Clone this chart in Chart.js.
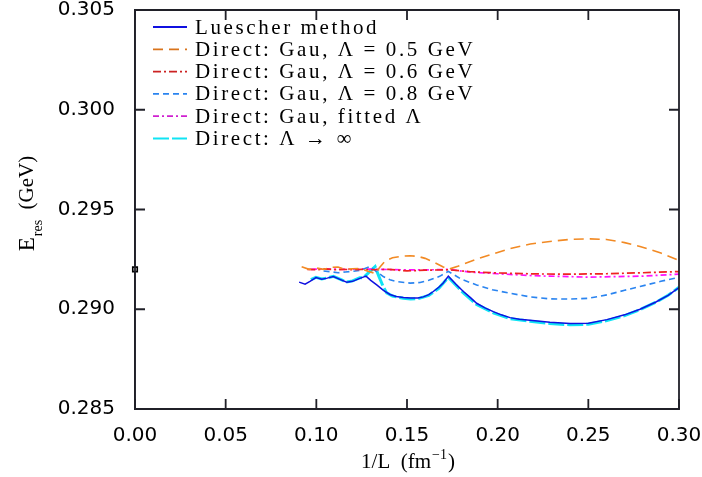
<!DOCTYPE html>
<html><head><meta charset="utf-8">
<script src="https://cdn.jsdelivr.net/npm/chart.js@4.4.1/dist/chart.umd.min.js"></script>
<style>html,body{margin:0;padding:0;background:#fff;}#wrap{width:702px;height:477px;}</style>
</head><body><div id="wrap"><canvas id="c" width="702" height="477"></canvas></div>
<script>
// ---------- data ----------
const xTicks = [0.00, 0.05, 0.10, 0.15, 0.20, 0.25, 0.30];
const yTicks = [0.285, 0.290, 0.295, 0.300, 0.305];

const seriesLabels = [
  'Luescher method',
  'Direct: Gau, \u039B = 0.5 GeV',
  'Direct: Gau, \u039B = 0.6 GeV',
  'Direct: Gau, \u039B = 0.8 GeV',
  'Direct: Gau, fitted \u039B',
  'Direct: \u039B \u2192 \u221E'
];

const luescherX = [0.0905,0.0938,0.0965,0.0998,0.1030,0.1060,0.1094,0.1130,0.1168,0.1200,0.1240,0.1274,0.1300,0.1333,0.1370,0.1406,0.1440,0.1480,0.1520,0.1560,0.1590,0.1620,0.1645,0.1675,0.1700,0.1728,0.1770,0.1811,0.1850,0.1884,0.1930,0.1976,0.2020,0.2068,0.2120,0.2178,0.2288,0.2399,0.2500,0.2602,0.2700,0.2785,0.2870,0.2940,0.3000];
const luescherY = [0.29136,0.29126,0.29140,0.29159,0.29151,0.29156,0.29164,0.29150,0.29136,0.29140,0.29155,0.29166,0.29145,0.29122,0.29095,0.29074,0.29064,0.29059,0.29057,0.29057,0.29062,0.29073,0.29089,0.29110,0.29132,0.29166,0.29125,0.29089,0.29058,0.29030,0.29007,0.28988,0.28972,0.28958,0.28950,0.28945,0.28935,0.28928,0.28930,0.28948,0.28972,0.29000,0.29035,0.29070,0.29108];

const gau05X = [0.0919,0.0960,0.1000,0.1040,0.1080,0.1120,0.1160,0.1200,0.1240,0.1280,0.1324,0.1350,0.1379,0.1420,0.1470,0.1517,0.1560,0.1600,0.1650,0.1700,0.1728,0.1780,0.1884,0.2000,0.2068,0.2180,0.2288,0.2400,0.2509,0.2600,0.2700,0.2785,0.2900,0.3000];
const gau05Y = [0.29213,0.29200,0.29207,0.29200,0.29210,0.29212,0.29200,0.29203,0.29205,0.29192,0.29180,0.29210,0.29242,0.29258,0.29266,0.29268,0.29265,0.29255,0.29235,0.29212,0.29200,0.29215,0.29251,0.29285,0.29304,0.29327,0.29340,0.29350,0.29353,0.29350,0.29334,0.29315,0.29282,0.29245];

const gau06X = [0.0950,0.1000,0.1050,0.1100,0.1150,0.1200,0.1250,0.1300,0.1400,0.1500,0.1600,0.1728,0.1850,0.2000,0.2200,0.2400,0.2600,0.2800,0.3000];
const gau06Y = [0.29200,0.29198,0.29202,0.29198,0.29200,0.29198,0.29200,0.29198,0.29200,0.29192,0.29196,0.29198,0.29188,0.29182,0.29177,0.29176,0.29178,0.29183,0.29189];

const gau08X = [0.1040,0.1080,0.1120,0.1160,0.1200,0.1240,0.1296,0.1330,0.1369,0.1406,0.1443,0.1517,0.1572,0.1620,0.1680,0.1728,0.1800,0.1884,0.1970,0.2068,0.2180,0.2288,0.2399,0.2500,0.2602,0.2700,0.2785,0.2900,0.3000];
const gau08Y = [0.29192,0.29188,0.29183,0.29187,0.29190,0.29195,0.29214,0.29190,0.29164,0.29148,0.29139,0.29131,0.29134,0.29145,0.29165,0.29190,0.29150,0.29122,0.29098,0.29080,0.29062,0.29052,0.29051,0.29055,0.29072,0.29095,0.29114,0.29140,0.29160];

const fittedX = [0.0970,0.1050,0.1150,0.1250,0.1350,0.1517,0.1650,0.1728,0.1850,0.2000,0.2200,0.2500,0.2800,0.3000];
const fittedY = [0.29200,0.29202,0.29200,0.29202,0.29200,0.29197,0.29198,0.29200,0.29186,0.29178,0.29168,0.29161,0.29166,0.29176];

const infX = [0.0970,0.0998,0.1030,0.1060,0.1094,0.1130,0.1168,0.1200,0.1240,0.1259,0.1290,0.1324,0.1345,0.1369,0.1388,0.1420,0.1480,0.1520,0.1560,0.1620,0.1675,0.1728,0.1811,0.1884,0.1976,0.2068,0.2178,0.2288,0.2399,0.2500,0.2602,0.2700,0.2785,0.2870,0.2940,0.3000];
const infY = [0.29148,0.29160,0.29152,0.29157,0.29165,0.29151,0.29137,0.29142,0.29158,0.29158,0.29185,0.29214,0.29165,0.29113,0.29082,0.29066,0.29055,0.29052,0.29053,0.29069,0.29105,0.29160,0.29082,0.29024,0.28982,0.28953,0.28940,0.28929,0.28922,0.28925,0.28943,0.28968,0.28998,0.29034,0.29070,0.29110];

const refPointX = [0.0];
const refPointY = [0.2920];

// ---------- helpers ----------
const pts = (xs, ys) => xs.map((x, i) => ({x: x, y: ys[i]}));

const datasets = [
  {label: seriesLabels[0], data: pts(luescherX, luescherY), borderColor: '#1010e0', borderWidth: 1.5, borderDash: []},
  {label: seriesLabels[1], data: pts(gau05X, gau05Y), borderColor: '#f28a24', legendColor: '#d9741c', borderWidth: 1.6, borderDash: [10, 6]},
  {label: seriesLabels[2], data: pts(gau06X, gau06Y), borderColor: '#ee2222', legendColor: '#cc2222', borderWidth: 1.7, borderDash: [8, 3, 2, 3]},
  {label: seriesLabels[3], data: pts(gau08X, gau08Y), borderColor: '#2a84f0', borderWidth: 1.6, borderDash: [6, 4]},
  {label: seriesLabels[4], data: pts(fittedX, fittedY), borderColor: '#ff10ff', legendColor: '#d020d0', borderWidth: 1.7, borderDash: [6, 3, 2, 3]},
  {label: seriesLabels[5], data: pts(infX, infY), borderColor: '#10e4f4', borderWidth: 3, borderDash: [16, 3]},
  {label: 'ref', hideLegend: true, data: pts(refPointX, refPointY), showLine: false, clip: false, pointStyle: 'rect', pointRadius: 3.2, borderColor: '#000', backgroundColor: '#fff', pointBorderWidth: 1.6}
];
datasets.forEach(d => { d.fill = false; d.tension = 0; if (d.pointRadius === undefined) d.pointRadius = 0; d.showLine = d.showLine !== false; });

const FRAME = '#202028';
const TICK_LEN = 10;

// ---------- frame with inward ticks on all four sides (filled shapes) ----------
function drawFrame(chart) {
  const ctx = chart.ctx, ca = chart.chartArea;
  const xs = chart.scales.x, ys = chart.scales.y;
  const t = 1.8, h = t / 2;
  ctx.save();
  ctx.fillStyle = FRAME;
  ctx.beginPath();
  ctx.rect(ca.left - h, ca.top - h, ca.width + t, ca.height + t);
  ctx.rect(ca.left + h, ca.top + h, ca.width - t, ca.height - t);
  ctx.fill('evenodd');
  ctx.beginPath();
  for (const v of xTicks) {
    const px = xs.getPixelForValue(v);
    ctx.rect(px - h, ca.bottom - TICK_LEN, t, TICK_LEN);
    ctx.rect(px - h, ca.top, t, TICK_LEN);
  }
  for (const v of yTicks) {
    const py = ys.getPixelForValue(v);
    ctx.rect(ca.left, py - h, TICK_LEN, t);
    ctx.rect(ca.right - TICK_LEN, py - h, TICK_LEN, t);
  }
  ctx.fill();
  ctx.restore();
}

// ---------- legend and axis titles ----------
function drawLegend(chart) {
  const ctx = chart.ctx, ca = chart.chartArea;
  const items = chart.data.datasets.filter(d => !d.hideLegend);
  ctx.save();
  ctx.font = '21px "Liberation Serif"';
  try { ctx.letterSpacing = '2.6px'; } catch (e) {}
  ctx.textBaseline = 'middle';
  items.forEach((d, i) => {
    const y = ca.top + 17 + i * 22.3;
    ctx.strokeStyle = d.legendColor || d.borderColor;
    ctx.lineWidth = 1.8;
    ctx.setLineDash(d.borderDash || []);
    ctx.beginPath(); ctx.moveTo(ca.left + 18, y); ctx.lineTo(ca.left + 52, y); ctx.stroke();
    ctx.setLineDash([]);
    ctx.fillStyle = '#000';
    ctx.fillText(d.label, ca.left + 60, y + 1);
  });
  ctx.restore();
}

function drawTitles(chart) {
  const ctx = chart.ctx, ca = chart.chartArea;
  ctx.save();
  ctx.fillStyle = '#000';
  ctx.textBaseline = 'alphabetic';
  const big = '21px "Liberation Serif"', small = '14px "Liberation Serif"';
  ctx.font = big;
  const p1 = '1/L  (fm', p3 = ')';
  const w1 = ctx.measureText(p1).width;
  ctx.font = small;
  const p2 = '\u22121';
  const w2 = ctx.measureText(p2).width;
  ctx.font = big;
  const w3 = ctx.measureText(p3).width;
  const cx = (ca.left + ca.right) / 2;
  const x0 = cx - (w1 + w2 + w3) / 2;
  const base = 468;
  ctx.font = big; ctx.fillText(p1, x0, base);
  ctx.font = small; ctx.fillText(p2, x0 + w1 + 1, base - 9);
  ctx.font = big; ctx.fillText(p3, x0 + w1 + w2 + 2, base);
  ctx.translate(0, 204);
  ctx.rotate(-Math.PI / 2);
  ctx.font = '23px "Liberation Serif"';
  const we = ctx.measureText('E').width;
  ctx.font = big;
  const g = '  (GeV)';
  const wg = ctx.measureText(g).width;
  ctx.font = small;
  const wr = ctx.measureText('res').width;
  const s = -(we + wr + wg) / 2;
  ctx.font = '23px "Liberation Serif"'; ctx.fillText('E', s, 34);
  ctx.font = small; ctx.fillText('res', s + we + 1, 42);
  ctx.font = big; ctx.fillText(g, s + we + wr + 1, 33);
  ctx.restore();
}

const overlayPlugin = {
  id: 'overlayDecor',
  afterDraw(chart) {
    drawFrame(chart);
    drawLegend(chart);
    drawTitles(chart);
  }
};

// ---------- chart ----------
new Chart(document.getElementById('c'), {
  type: 'line',
  data: {datasets: datasets},
  options: {
    responsive: false,
    animation: false,
    devicePixelRatio: 1,
    layout: {padding: {left: 0, right: 23, top: 10, bottom: 0}},
    plugins: {legend: {display: false}, tooltip: {enabled: false}},
    scales: {
      x: {
        type: 'linear', min: 0, max: 0.3,
        grid: {display: false, drawTicks: false},
        border: {display: true, color: FRAME, width: 1.6},
        afterBuildTicks: s => { s.ticks = xTicks.map(v => ({value: v})); },
        afterFit: s => { s.height = 68; s.paddingLeft = 0; s.paddingRight = 0; },
        ticks: {padding: 15, color: '#000', font: {family: '"DejaVu Sans"', size: 20}, maxRotation: 0, callback: v => Number(v).toFixed(2)}
      },
      y: {
        type: 'linear', min: 0.285, max: 0.305,
        grid: {display: false, drawTicks: false},
        border: {display: true, color: FRAME, width: 1.6},
        afterBuildTicks: s => { s.ticks = yTicks.map(v => ({value: v})); },
        afterFit: s => { s.width = 135; s.paddingTop = 0; s.paddingBottom = 0; },
        ticks: {padding: 20, color: '#000', font: {family: '"DejaVu Sans"', size: 20}, callback: v => Number(v).toFixed(3)}
      }
    }
  },
  plugins: [overlayPlugin]
});
</script></body></html>
